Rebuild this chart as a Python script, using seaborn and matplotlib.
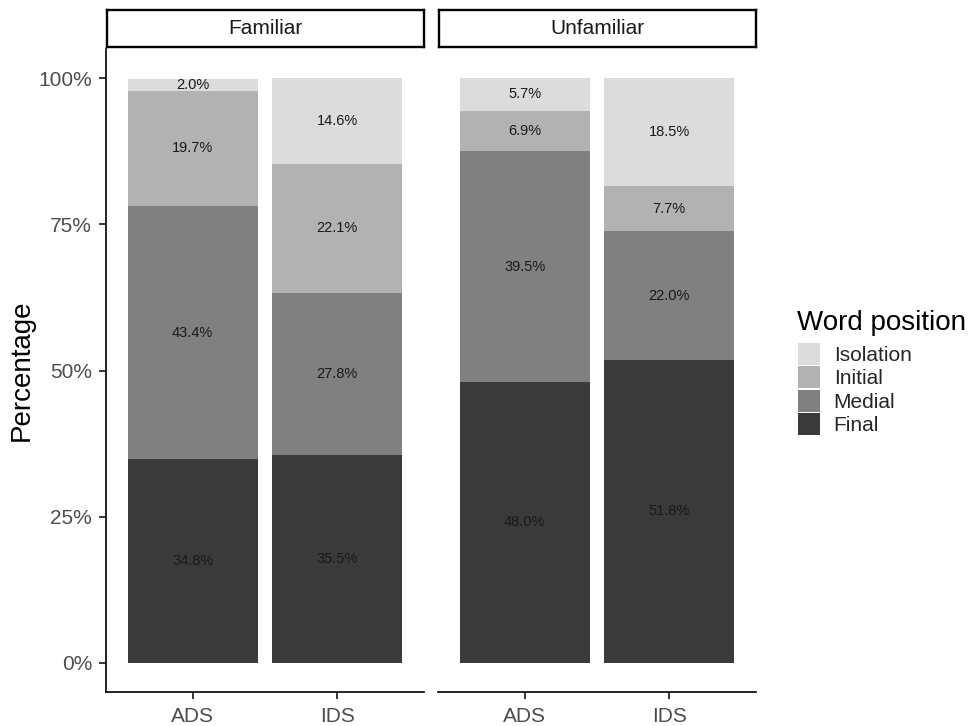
import matplotlib
matplotlib.use("Agg")
import matplotlib.pyplot as plt
import numpy as np
import pandas as pd
import seaborn as sns
from matplotlib.patches import Patch

# Data: percentage of words in each utterance position
familiarity = ["Familiar", "Familiar", "Unfamiliar", "Unfamiliar"]
speech = ["ADS", "IDS", "ADS", "IDS"]
final = [34.8, 35.5, 48.0, 51.8]
medial = [43.4, 27.8, 39.5, 22.0]
initial = [19.7, 22.1, 6.9, 7.7]
isolation = [2.0, 14.6, 5.7, 18.5]

positions = ["Final", "Medial", "Initial", "Isolation"]  # stacking order, bottom to top
colors = {"Final": "#3a3a3a", "Medial": "#808080", "Initial": "#b2b2b2", "Isolation": "#dcdcdc"}
panels = ["Familiar", "Unfamiliar"]
speech_order = ["ADS", "IDS"]
yticks = [0, 0.25, 0.5, 0.75, 1.0]
ytick_labels = ["0%", "25%", "50%", "75%", "100%"]

values = {"Final": final, "Medial": medial, "Initial": initial, "Isolation": isolation}
rows = []
for i in range(len(speech)):
    for p in positions:
        rows.append({"Familiarity": familiarity[i], "Speech": speech[i],
                     "Position": p, "Percent": values[p][i]})
df = pd.DataFrame(rows)
df["Share"] = df["Percent"] / 100.0
df["Top"] = df.groupby(["Familiarity", "Speech"])["Share"].cumsum()
df["Mid"] = df["Top"] - df["Share"] / 2

sns.set_theme(style="ticks")
plt.rcParams["font.family"] = ["Liberation Sans", "DejaVu Sans"]

W, H = 973, 726
fig = plt.figure(figsize=(W / 100, H / 100), dpi=100)

def fx(px):
    return px / W

def fy(py):
    return 1 - py / H

panel_x = [(106, 424), (438, 756)]
top_px, bot_px = 49, 692
tick_color = "#4d4d4d"

for k, panel in enumerate(panels):
    x0, x1 = panel_x[k]
    ax = fig.add_axes([fx(x0), fy(bot_px), fx(x1 - x0), (bot_px - top_px) / H])
    sub = df[df["Familiarity"] == panel]
    # draw cumulative tops from the top layer down so lower layers overlay
    for p in reversed(positions):
        layer = sub[sub["Position"] == p]
        sns.barplot(data=layer, x="Speech", y="Top", order=speech_order,
                    color=colors[p], saturation=1, width=0.9, errorbar=None,
                    linewidth=0, ax=ax)
    for _, r in sub.iterrows():
        xi = speech_order.index(r["Speech"])
        ax.text(xi, r["Mid"], f"{r['Percent']:.1f}%", ha="center", va="center",
                fontsize=10.5, color="#1a1a1a")
    ax.set_xlim(-0.6, 1.6)
    ax.set_ylim(-0.05, 1.05)
    ax.set_xlabel("")
    ax.tick_params(axis="x", length=5, width=1.1, color="black", labelsize=15,
                   labelcolor=tick_color, pad=6)
    for s in ["top", "right"]:
        ax.spines[s].set_visible(False)
    ax.spines["bottom"].set_color("black")
    ax.spines["bottom"].set_linewidth(1.2)
    if k == 0:
        ax.set_yticks(yticks)
        ax.set_yticklabels(ytick_labels)
        ax.tick_params(axis="y", length=5, width=1.1, color="black", labelsize=15,
                       labelcolor=tick_color, pad=5)
        ax.spines["left"].set_color("black")
        ax.spines["left"].set_linewidth(1.2)
        ax.set_ylabel("Percentage", fontsize=20, color="black")
        ax.yaxis.set_label_coords(-0.225, 0.5)
    else:
        ax.spines["left"].set_visible(False)
        ax.set_yticks([])
        ax.set_ylabel("")

    # facet strip
    sax = fig.add_axes([fx(x0 + 1), fy(47), fx(x1 - x0 - 1), 37 / H])
    sax.set_xticks([])
    sax.set_yticks([])
    for s in sax.spines.values():
        s.set_visible(True)
        s.set_color("black")
        s.set_linewidth(1.7)
    sax.set_facecolor("white")
    sax.text(0.5, 0.5, panel, ha="center", va="center", fontsize=15,
             color="#1a1a1a", transform=sax.transAxes)

# legend: title placed as text, keys as a titleless legend beneath it
fig.text(fx(797), fy(330), "Word position", fontsize=20, color="black",
         ha="left", va="baseline")
handles = [Patch(facecolor=colors[p], edgecolor="none", label=p)
           for p in reversed(positions)]
leg = fig.legend(handles=handles, loc="upper left",
                 bbox_to_anchor=(fx(798), fy(343)), frameon=False,
                 fontsize=15, handlelength=1.06, handleheight=1.25,
                 labelspacing=0.06, handletextpad=0.65, borderpad=0,
                 borderaxespad=0)

fig.savefig("out.png", dpi=100, facecolor="white")
